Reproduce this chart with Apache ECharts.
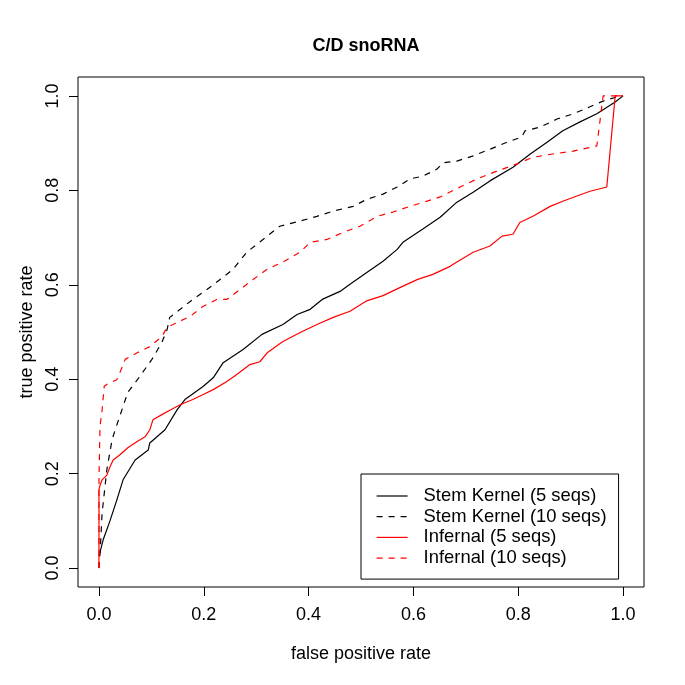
<!DOCTYPE html>
<html>
<head>
<meta charset="utf-8">
<script src="https://cdn.jsdelivr.net/npm/echarts@6/dist/echarts.min.js"></script>
<style>html,body{margin:0;padding:0;background:#fff}#c{width:685px;height:685px}</style>
</head>
<body>
<div id="c"></div>
<script>
var titleText = 'C/D snoRNA';
var xLabel = 'false positive rate';
var yLabel = 'true positive rate';
var tickValues = [0, 0.2, 0.4, 0.6, 0.8, 1.0];
var seriesNames = ['Stem Kernel (5 seqs)', 'Stem Kernel (10 seqs)', 'Infernal (5 seqs)', 'Infernal (10 seqs)'];

var stemKernel5 = [[0,0.025],[0.008,0.06],[0.021,0.10],[0.034,0.144],[0.046,0.187],[0.069,0.229],[0.094,0.25],[0.097,0.265],[0.126,0.293],[0.149,0.335],[0.164,0.357],[0.198,0.384],[0.218,0.403],[0.237,0.435],[0.275,0.463],[0.311,0.495],[0.351,0.516],[0.378,0.537],[0.403,0.548],[0.426,0.569],[0.460,0.586],[0.479,0.601],[0.511,0.626],[0.542,0.650],[0.569,0.675],[0.580,0.690],[0.618,0.718],[0.651,0.743],[0.683,0.775],[0.714,0.796],[0.746,0.820],[0.790,0.849],[0.823,0.877],[0.855,0.902],[0.885,0.926],[0.918,0.945],[0.950,0.962],[0.985,0.987],[1,1]];

var stemKernel10 = [[0,0],[0.002,0.03],[0.006,0.117],[0.015,0.208],[0.025,0.272],[0.031,0.293],[0.055,0.372],[0.078,0.406],[0.101,0.442],[0.120,0.478],[0.130,0.505],[0.135,0.531],[0.155,0.548],[0.179,0.569],[0.206,0.590],[0.231,0.611],[0.256,0.633],[0.282,0.669],[0.313,0.696],[0.345,0.724],[0.384,0.735],[0.416,0.745],[0.447,0.756],[0.485,0.766],[0.511,0.781],[0.542,0.792],[0.569,0.807],[0.593,0.824],[0.618,0.830],[0.645,0.845],[0.656,0.858],[0.683,0.862],[0.714,0.873],[0.746,0.887],[0.779,0.902],[0.807,0.913],[0.813,0.926],[0.842,0.934],[0.874,0.951],[0.905,0.962],[0.937,0.977],[0.962,0.989],[0.989,0.998],[1,1]];

var infernal5 = [[0,0],[0,0.166],[0.002,0.175],[0.006,0.187],[0.015,0.197],[0.021,0.214],[0.027,0.229],[0.040,0.240],[0.055,0.255],[0.073,0.268],[0.088,0.278],[0.097,0.293],[0.103,0.314],[0.120,0.325],[0.136,0.335],[0.155,0.346],[0.179,0.357],[0.198,0.367],[0.218,0.378],[0.244,0.395],[0.263,0.410],[0.288,0.431],[0.307,0.437],[0.321,0.456],[0.351,0.480],[0.384,0.499],[0.416,0.516],[0.447,0.531],[0.479,0.544],[0.511,0.566],[0.542,0.577],[0.574,0.594],[0.607,0.611],[0.637,0.622],[0.670,0.639],[0.683,0.648],[0.714,0.669],[0.746,0.682],[0.769,0.703],[0.790,0.707],[0.803,0.732],[0.828,0.745],[0.861,0.766],[0.885,0.777],[0.912,0.788],[0.937,0.798],[0.969,0.807],[0.985,1.0],[1,1]];

var infernal10 = [[0,0],[0,0.187],[0.002,0.30],[0.006,0.335],[0.010,0.385],[0.015,0.389],[0.034,0.399],[0.040,0.414],[0.050,0.442],[0.073,0.456],[0.097,0.469],[0.120,0.490],[0.130,0.510],[0.149,0.520],[0.174,0.533],[0.198,0.554],[0.225,0.569],[0.244,0.569],[0.269,0.590],[0.294,0.611],[0.321,0.633],[0.351,0.648],[0.384,0.669],[0.403,0.690],[0.435,0.696],[0.466,0.711],[0.498,0.724],[0.531,0.745],[0.561,0.754],[0.593,0.766],[0.626,0.777],[0.651,0.786],[0.689,0.807],[0.721,0.824],[0.760,0.841],[0.798,0.856],[0.828,0.870],[0.866,0.877],[0.905,0.883],[0.950,0.894],[0.962,1.0],[1,1]];

var FONT = '"Liberation Sans", Arial, Helvetica, sans-serif';
var chart = echarts.init(document.getElementById('c'), null, {renderer: 'canvas'});

function lineSeries(name, data, color, dashed) {
  return {
    name: name, type: 'line', data: data, symbol: 'none', showSymbol: false,
    animation: false, silent: true, clip: true,
    lineStyle: {color: color, width: 1.2, type: dashed ? [6, 6] : 'solid'},
    itemStyle: {color: color}
  };
}

var axisCommon = {
  type: 'value', min: -0.04, max: 1.04,
  splitLine: {show: false},
  axisLine: {show: false, onZero: false},
  nameLocation: 'middle',
  nameTextStyle: {fontFamily: FONT, fontSize: 18, color: '#000'},
};

chart.setOption({
  animation: false,
  backgroundColor: '#fff',
  title: {
    text: titleText, left: 361, top: 32, textAlign: 'center',
    textStyle: {fontFamily: FONT, fontSize: 18, fontWeight: 'bold', color: '#000'}
  },
  grid: {left: 78, right: 41, top: 77, bottom: 98, show: true, borderColor: '#000', borderWidth: 1, backgroundColor: 'transparent'},
  xAxis: Object.assign({}, axisCommon, {
    name: xLabel, nameGap: 58,
    axisTick: {show: true, inside: false, length: 9, customValues: tickValues, lineStyle: {color: '#000', width: 1}},
    axisLabel: {show: true, customValues: tickValues, margin: 19, fontFamily: FONT, fontSize: 18, color: '#000',
      formatter: function (v) { return v.toFixed(1); }}
  }),
  yAxis: Object.assign({}, axisCommon, {
    name: yLabel, nameGap: 42, nameRotate: 90,
    axisTick: {show: true, inside: false, length: 9, customValues: tickValues, lineStyle: {color: '#000', width: 1}},
    axisLabel: {show: true, rotate: 90, customValues: tickValues, margin: 16, fontFamily: FONT, fontSize: 18, color: '#000',
      formatter: function (v) { return v.toFixed(1); }}
  }),
  legend: {
    orient: 'vertical', left: 361, top: 474,
    data: seriesNames,
    borderColor: '#000', borderWidth: 1, borderRadius: 0,
    padding: [13, 12, 12, 15],
    itemWidth: 31, itemHeight: 14, itemGap: 2.7,
    selectedMode: false,
    itemStyle: {opacity: 0},
    lineStyle: {width: 1.2},
    textStyle: {fontFamily: FONT, fontSize: 18.4, color: '#000', padding: [0, 0, 0, 11]}
  },
  series: [
    lineSeries(seriesNames[0], stemKernel5, '#000000', false),
    lineSeries(seriesNames[1], stemKernel10, '#000000', true),
    lineSeries(seriesNames[2], infernal5, '#ff0000', false),
    lineSeries(seriesNames[3], infernal10, '#ff0000', true)
  ]
});
</script>
</body>
</html>
